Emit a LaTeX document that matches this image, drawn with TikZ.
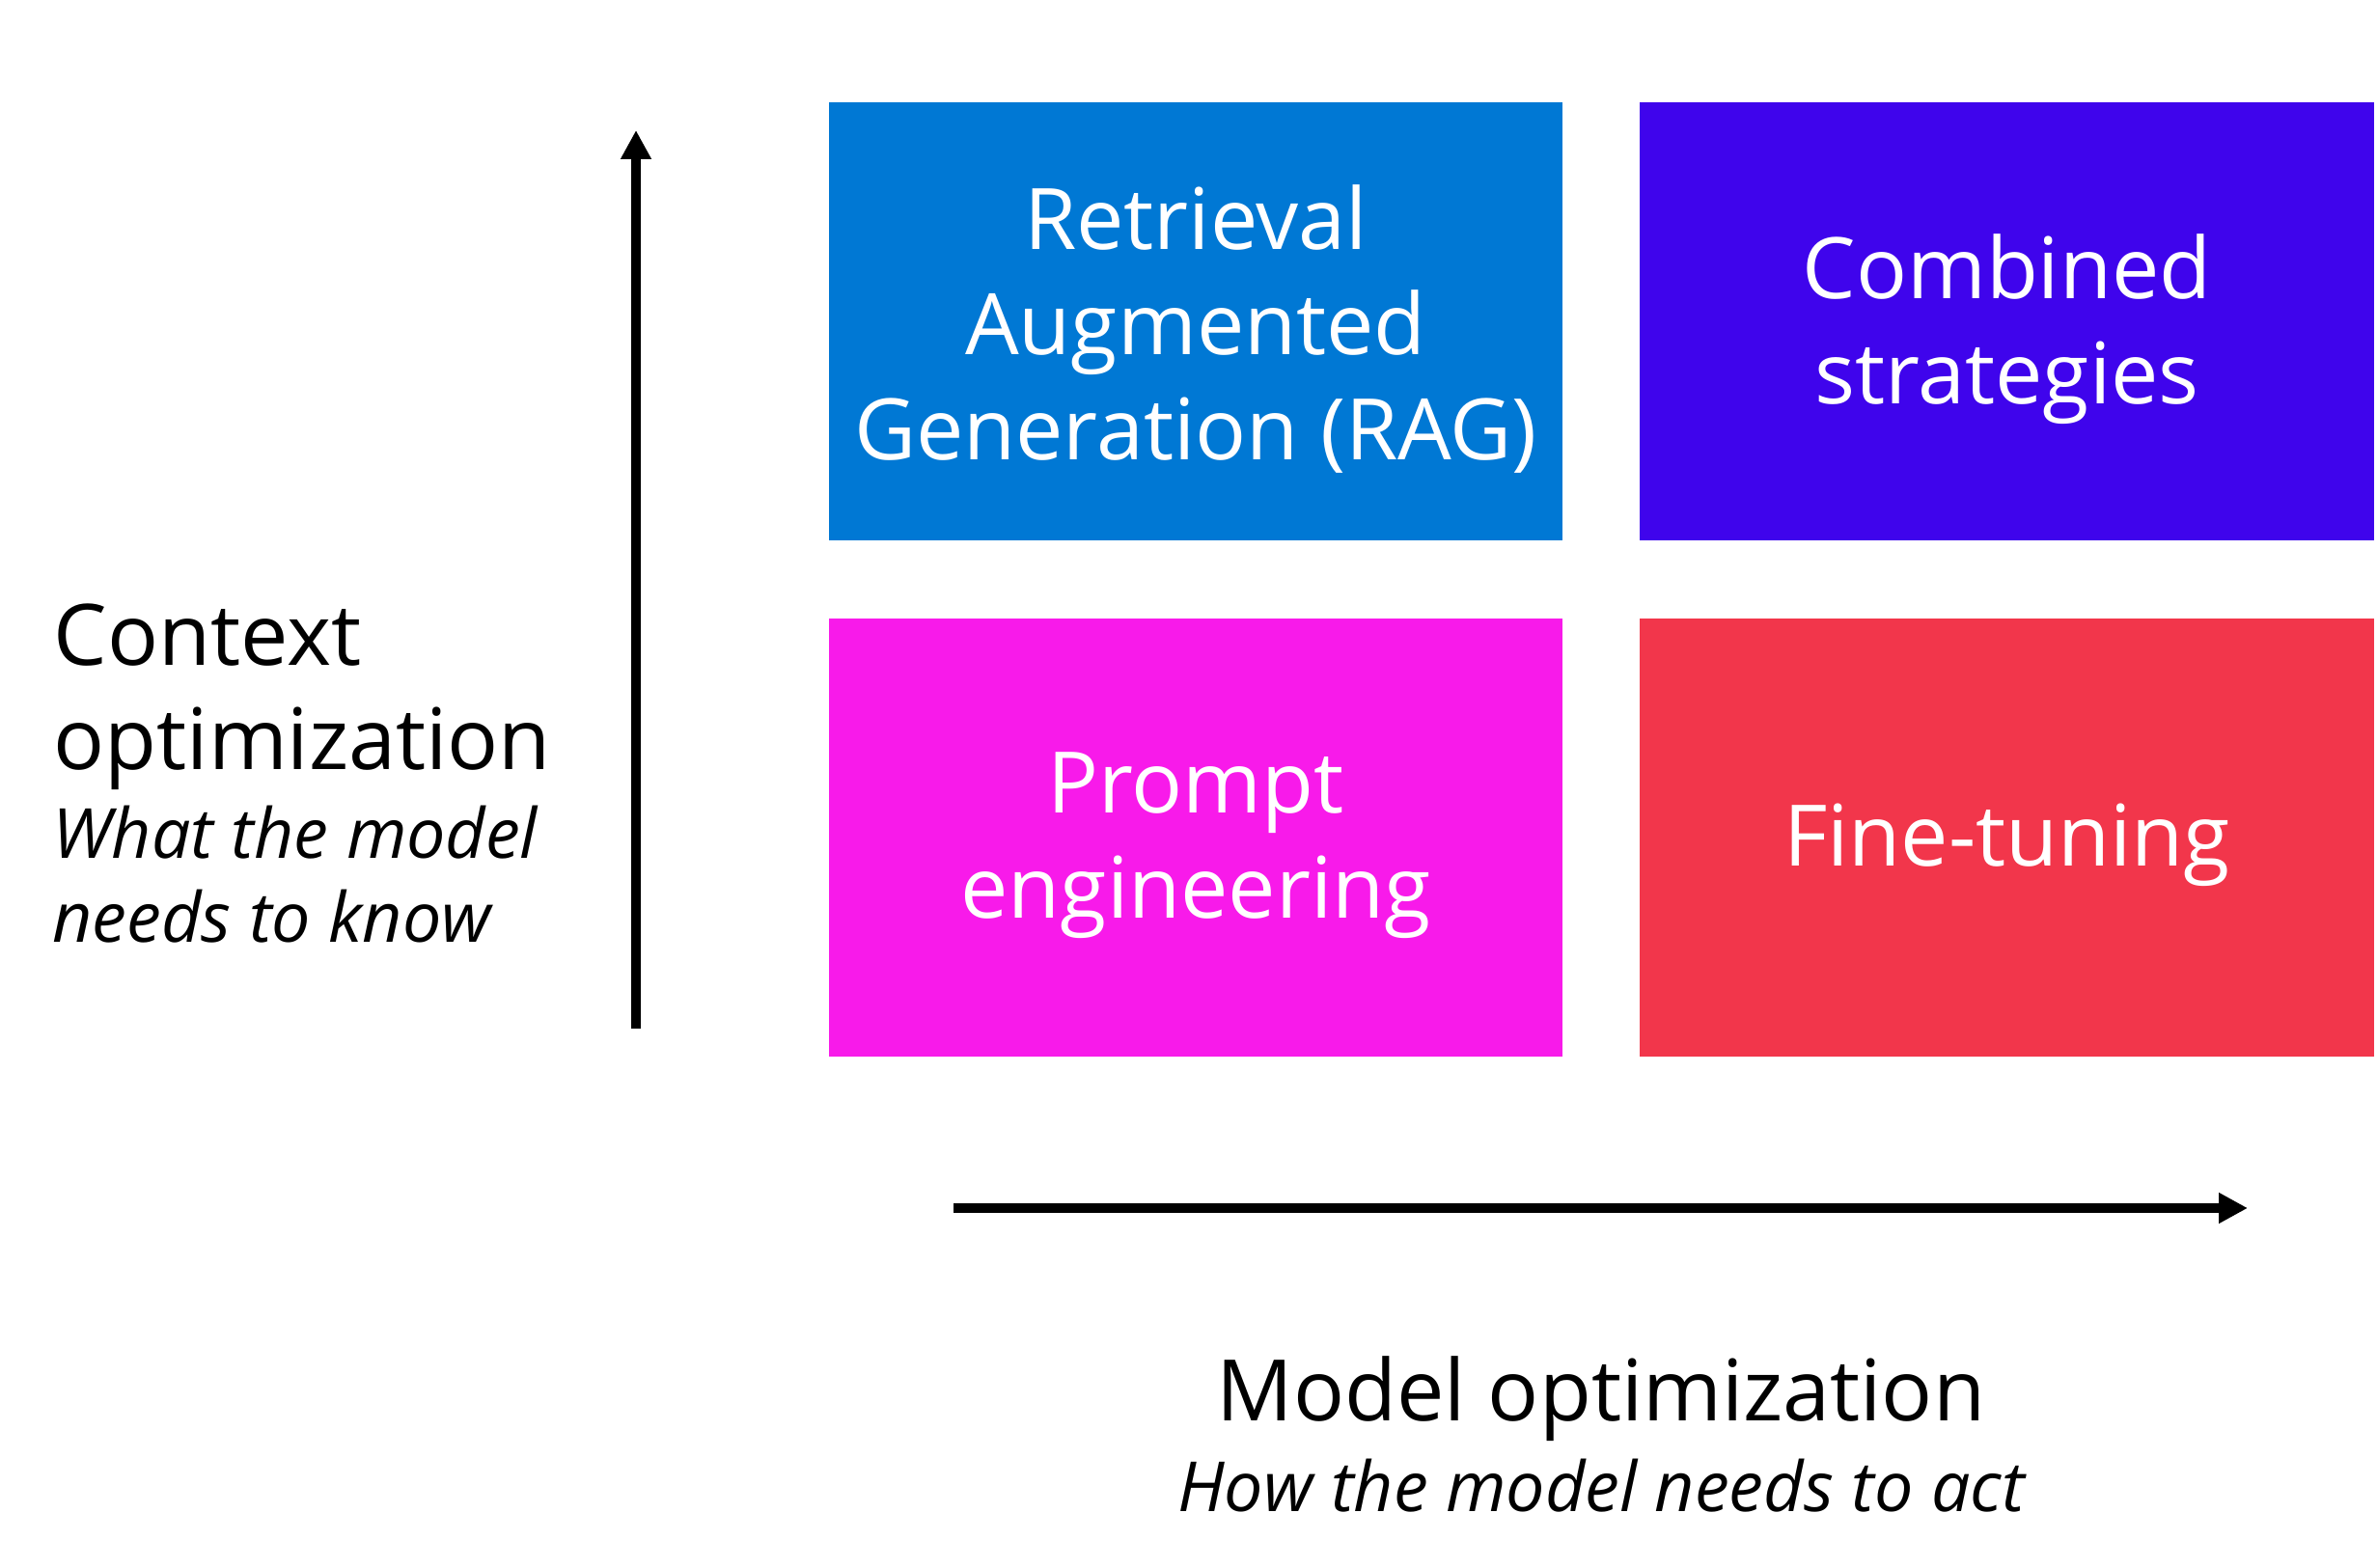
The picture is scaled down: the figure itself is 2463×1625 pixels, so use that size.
\documentclass[tikz,border=0pt]{standalone}
\usepackage{fontspec}
\setmainfont{Open Sans}
\usetikzlibrary{arrows.meta}
\definecolor{ragblue}{HTML}{0078D4}
\definecolor{combpurple}{HTML}{3F04EC}
\definecolor{promptpink}{HTML}{F81AEA}
\definecolor{finered}{HTML}{F2364B}
\tikzset{
  quad/.style={minimum width=760*0.3pt, minimum height=454*0.3pt, inner sep=0pt},
  boxtext/.style={inner sep=0pt, text=white, align=center, font=\fontsize{26.4}{32.7}\selectfont},
  axisarrow/.style={line width=3pt, -{Triangle[length=9pt,width=9pt]}},
  biglabel/.style={anchor=base west, inner sep=0pt, font=\fontsize{26.4}{32.7}\selectfont},
  itlabel/.style={anchor=base west, inner sep=0pt, font=\fontsize{21.5}{26}\selectfont\itshape},
}
\begin{document}
\begin{tikzpicture}[x=0.3pt,y=-0.3pt]
\useasboundingbox[fill=white] (0,0) rectangle (2463,1625);
\node[quad, fill=ragblue] (rag) at (1239,333) {};
\node[quad, fill=combpurple, minimum width=761*0.3pt] (comb) at (2079.5,333) {};
\node[quad, fill=promptpink] (prompt) at (1239,868) {};
\node[quad, fill=finered, minimum width=761*0.3pt] (fine) at (2079.5,868) {};
\node[boxtext] (ragt) at ([yshift=-2.4pt]rag.center) {Retrieval\\Augmented\\Generation (RAG)};
\node[boxtext] (combt) at ([yshift=-2.4pt]comb.center) {Combined\\strategies};
\node[boxtext] (promptt) at ([yshift=-2.4pt]prompt.center) {Prompt\\engineering};
\node[boxtext] (finet) at ([yshift=-2.4pt]fine.center) {Fine-tuning};
\coordinate (vs) at (659,1066);
\coordinate (ve) at (659,135);
\coordinate (hs) at (988,1252);
\coordinate (he) at (2329,1252);
\draw[axisarrow] (vs) -- (ve);
\draw[axisarrow] (hs) -- (he);
\node[biglabel] (c1) at (55,690) {Context};
\node[biglabel] (c2) at (55,798) {optimization};
\node[itlabel] (c3) at (54,890) {What the model};
\node[itlabel] (c4) at (54,977) {needs to know};
\node[anchor=base, inner sep=0pt, font=\fontsize{26.4}{32.7}\selectfont] (m1) at (1659,1473) {Model optimization};
\node[anchor=base, inner sep=0pt, font=\fontsize{21.5}{26}\selectfont\itshape] (m2) at (1659,1566) {How the model needs to act};
\end{tikzpicture}
\end{document}
